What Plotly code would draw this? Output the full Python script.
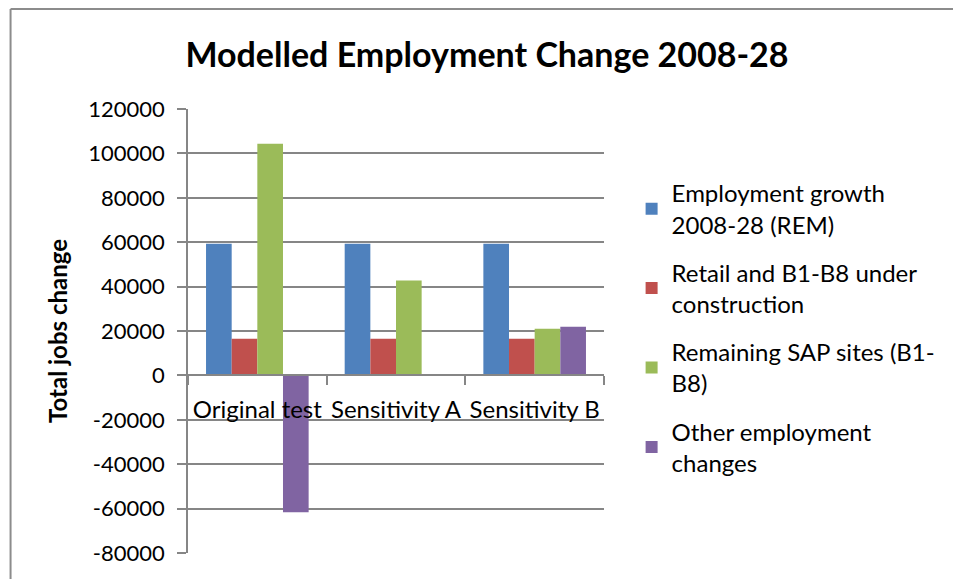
import plotly.graph_objects as go

categories = ["Original test", "Sensitivity A", "Sensitivity B"]
series_names = [
    "Employment growth<br>2008-28 (REM)",
    "Retail and B1-B8 under<br>construction",
    "Remaining SAP sites (B1-<br>B8)",
    "Other employment<br>changes",
]
emp_growth = [59300, 59300, 59300]
retail = [16500, 16500, 16500]
sap_sites = [104400, 42700, 21000]
other = [-61700, None, 21900]
colors = ["#4F81BD", "#C0504D", "#9BBB59", "#8064A2"]
y_ticks = [120000, 100000, 80000, 60000, 40000, 20000, 0, -20000, -40000, -60000, -80000]

FONT = "Lato"
W, H = 953, 579
L, R, T, B = 188, 610, 109, 553

fig = go.Figure()
for i, (name, vals) in enumerate(zip(series_names, [emp_growth, retail, sap_sites, other])):
    fig.add_trace(go.Bar(x=categories, y=vals, name=name, marker_color=colors[i],
                         marker_line_width=0, legendgroup=f"g{i}"))

pw, ph = R - L, B - T
zero_pos = (B - (T + (120000 / 200000) * ph)) / ph

fig.update_layout(
    width=W, height=H,
    margin=dict(l=L, r=W - R, t=T, b=H - B, pad=0),
    paper_bgcolor="white", plot_bgcolor="white",
    barmode="group", bargap=0.26, bargroupgap=0,
    font=dict(family=FONT, size=22, color="black"),
    title=dict(text="<b>Modelled Employment Change 2008-28</b>", x=487 / W, xanchor="center",
               y=1 - 55 / H, yanchor="middle", font=dict(family=FONT, size=34, color="black")),
    legend=dict(x=(638 - L) / pw, xanchor="left", y=(B - 171) / ph, yanchor="top",
                font=dict(family=FONT, size=24), tracegroupgap=14, itemwidth=30,
                bgcolor="rgba(0,0,0,0)"),
    showlegend=True,
    xaxis=dict(type="category", anchor="free", position=zero_pos, showline=True,
               linecolor="#868686", linewidth=1.5, ticks="outside", ticklen=9,
               tickcolor="#868686", tickwidth=1.5, tickson="boundaries", showgrid=False,
               ticklabelstandoff=13, tickangle=0,
               tickfont=dict(family=FONT, size=24, color="black"), zeroline=False),
    yaxis=dict(range=[-80000, 120000], tickvals=y_ticks, ticktext=[str(v) for v in y_ticks],
               showline=True, linecolor="#868686", linewidth=1.5, ticks="outside", ticklen=9,
               tickcolor="#868686", tickwidth=1.5, showgrid=True, gridcolor="#868686",
               gridwidth=1.5, zeroline=False, ticklabelstandoff=8,
               tickfont=dict(family=FONT, size=22, color="black"),
               title=dict(text="<b>Total jobs change</b>", standoff=14,
                          font=dict(family=FONT, size=24, color="black"))),
)

# outer chart frame (top and left edges visible)
fx = (8 - L) / pw
fy = (B - 9) / ph
fig.add_shape(type="line", xref="paper", yref="paper", x0=fx, x1=3, y0=fy, y1=fy,
              line=dict(color="#8C8C8C", width=2), layer="below")
fig.add_shape(type="line", xref="paper", yref="paper", x0=fx, x1=fx, y0=fy, y1=-1,
              line=dict(color="#8C8C8C", width=2), layer="below")

fig.write_html("out.html")
